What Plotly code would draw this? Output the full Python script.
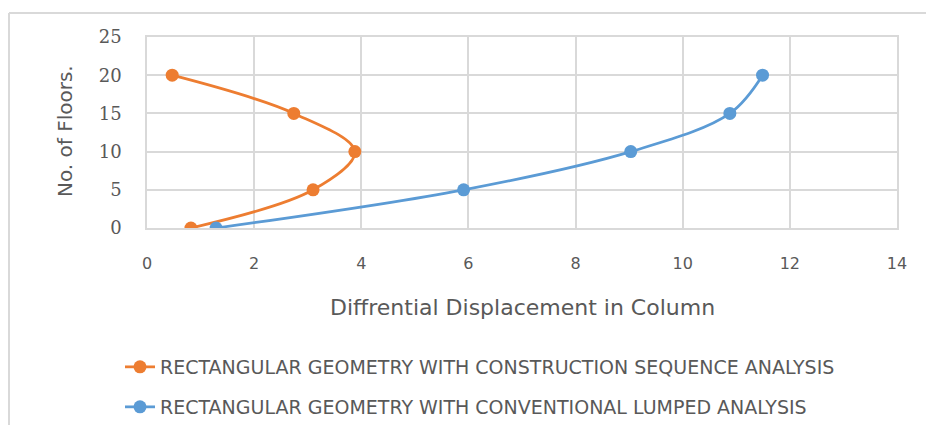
import plotly.graph_objects as go

# Floor levels and differential column displacement for each analysis method
floors = [0, 5, 10, 15, 20]
construction_sequence = [0.82, 3.10, 3.88, 2.74, 0.47]
conventional_lumped = [1.29, 5.91, 9.03, 10.88, 11.49]

series_names = [
    "RECTANGULAR GEOMETRY WITH CONSTRUCTION SEQUENCE ANALYSIS",
    "RECTANGULAR GEOMETRY WITH CONVENTIONAL LUMPED ANALYSIS",
]
x_ticks = [0, 2, 4, 6, 8, 10, 12, 14]
y_ticks = [0, 5, 10, 15, 20, 25]
x_title = "Diffrential Displacement in Column"
y_title = "No. of Floors."

ORANGE = "#ED7D31"
BLUE = "#5B9BD5"
GRID = "#D9D9D9"
TEXT = "#595959"
SANS = "'DejaVu Sans', sans-serif"
SERIF = "'DejaVu Serif', serif"

fig = go.Figure()
fig.add_trace(go.Scatter(
    x=construction_sequence, y=floors, name=series_names[0],
    mode="lines+markers", line=dict(color=ORANGE, width=2.75, shape="spline", smoothing=1),
    marker=dict(color=ORANGE, size=13), legend="legend",
))
fig.add_trace(go.Scatter(
    x=conventional_lumped, y=floors, name=series_names[1],
    mode="lines+markers", line=dict(color=BLUE, width=2.75, shape="spline", smoothing=1),
    marker=dict(color=BLUE, size=13), legend="legend2",
))

legend_common = dict(
    xref="container", yref="container", xanchor="left", yanchor="middle",
    font=dict(family=SANS, size=19, color=TEXT),
    bgcolor="rgba(0,0,0,0)", itemwidth=30,
)

fig.update_layout(
    width=926, height=425,
    margin=dict(l=147, r=29, t=37, b=197, autoexpand=False),
    paper_bgcolor="white", plot_bgcolor="white",
    font=dict(family=SANS, color=TEXT),
    showlegend=True,
    legend=dict(x=120 / 926, y=1 - 367 / 425, **legend_common),
    legend2=dict(x=120 / 926, y=1 - 407 / 425, **legend_common),
    xaxis=dict(
        range=[0, 14], tickvals=x_ticks, showgrid=True, gridcolor=GRID, gridwidth=1.5,
        showline=True, linecolor=GRID, linewidth=1.5, mirror=True, zeroline=False,
        ticks="", tickfont=dict(size=16, color=TEXT), ticklabelstandoff=20,
        tickangle=0,
    ),
    yaxis=dict(
        range=[0, 25], tickvals=y_ticks, showgrid=True, gridcolor=GRID, gridwidth=1.5,
        showline=True, linecolor=GRID, linewidth=1.5, mirror=True, zeroline=False,
        ticks="", tickfont=dict(size=18, color=TEXT, family=SERIF),
        ticklabelstandoff=20,
    ),
    annotations=[
        dict(text=x_title, xref="paper", yref="paper", x=(522 - 147) / 750,
             y=-(307 - 228) / 191,
             xanchor="center", yanchor="middle", showarrow=False,
             font=dict(size=22, color=TEXT, family=SANS)),
        dict(text=y_title, xref="paper", yref="paper", x=-(147 - 65) / 750,
             y=(228 - 131) / 191, textangle=-90,
             xanchor="center", yanchor="middle", showarrow=False,
             font=dict(size=20, color=TEXT, family=SANS)),
    ],
    shapes=[
        # outer chart frame (top and left edges visible)
        dict(type="line", xref="paper", yref="paper",
             x0=(9 - 147) / 750, x1=(940 - 147) / 750,
             y0=1 + (37 - 13) / 191, y1=1 + (37 - 13) / 191,
             line=dict(color=GRID, width=2)),
        dict(type="line", xref="paper", yref="paper",
             x0=(9 - 147) / 750, x1=(9 - 147) / 750,
             y0=1 + (37 - 13) / 191, y1=-(440 - 228) / 191,
             line=dict(color=GRID, width=2)),
    ],
)

fig.write_html("out.html")
